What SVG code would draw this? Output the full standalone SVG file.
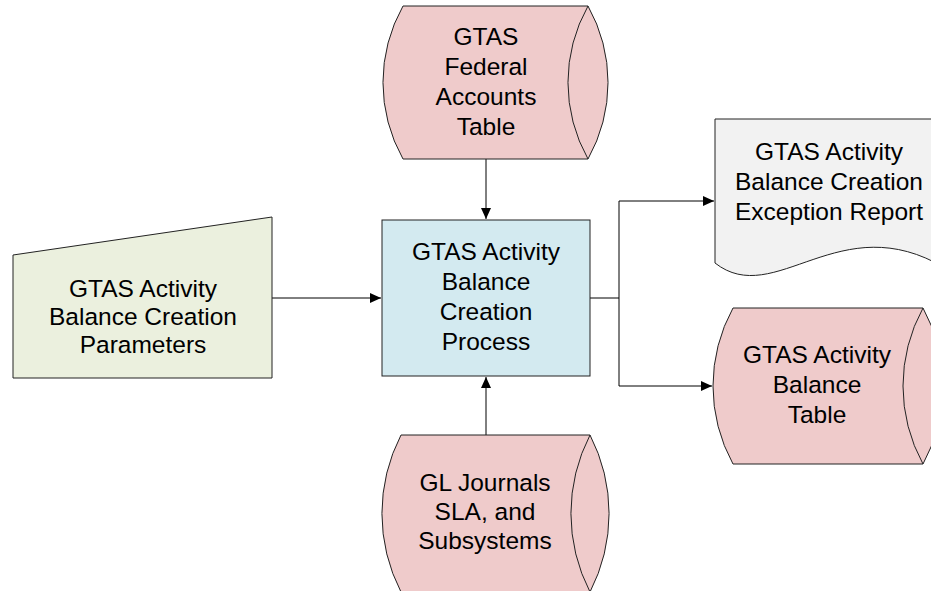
<svg xmlns="http://www.w3.org/2000/svg" width="931" height="591" viewBox="0 0 931 591">
<defs>
<style>
.db{fill:#EFCBCB;stroke:#222;stroke-width:1}
.proc{fill:#D3EAF0;stroke:#222;stroke-width:1}
.inp{fill:#EBF0DE;stroke:#222;stroke-width:1}
.doc{fill:#F2F2F2;stroke:#222;stroke-width:1}
.inner{fill:none;stroke:#222;stroke-width:1}
.lbl{font-family:"Liberation Sans",Arial,sans-serif;font-size:24.5px;fill:#000;text-anchor:middle}
.conn{fill:none;stroke:#000;stroke-width:1}
</style>
<marker id="arr" markerUnits="userSpaceOnUse" markerWidth="12" markerHeight="12" viewBox="0 0 12 12" refX="11" refY="6" orient="auto">
<path d="M0,1 L11,6 L0,11 Z" fill="#000"/>
</marker>
</defs>
<rect width="931" height="591" fill="#fff"/>
<g id="connectors">
<path class="conn" d="M486,159 L486,219" marker-end="url(#arr)"/>
<path class="conn" d="M272,298 L381,298" marker-end="url(#arr)"/>
<path class="conn" d="M486,435 L486,377" marker-end="url(#arr)"/>
<path class="conn" d="M590,298 L619,298"/>
<path class="conn" d="M619,201 L619,386"/>
<path class="conn" d="M619,201 L714,201" marker-end="url(#arr)"/>
<path class="conn" d="M619,386 L712,386" marker-end="url(#arr)"/>
</g>
<g id="federal-accounts">
<path class="db" d="M403,6 L588,6 A156,156 0 0 1 588,159 L403,159 A156,156 0 0 1 403,6 Z"/>
<path class="inner" d="M588,6 A156,156 0 0 0 588,159"/>
<text class="lbl" x="486" y="45">GTAS</text>
<text class="lbl" x="486" y="75">Federal</text>
<text class="lbl" x="486" y="105">Accounts</text>
<text class="lbl" x="486" y="135">Table</text>
</g>
<g id="parameters">
<path class="inp" d="M13,255 L272,217 L272,378 L13,378 Z"/>
<text class="lbl" x="143" y="297">GTAS Activity</text>
<text class="lbl" x="143" y="325">Balance Creation</text>
<text class="lbl" x="143" y="353">Parameters</text>
</g>
<g id="process">
<rect class="proc" x="382" y="220" width="208" height="156"/>
<text class="lbl" x="486" y="260">GTAS Activity</text>
<text class="lbl" x="486" y="290">Balance</text>
<text class="lbl" x="486" y="320">Creation</text>
<text class="lbl" x="486" y="350">Process</text>
</g>
<g id="exception-report">
<path class="doc" d="M715,119 L945,119 L945,268 C840,205 775,310 715,263 Z"/>
<text class="lbl" x="829" y="160">GTAS Activity</text>
<text class="lbl" x="829" y="190">Balance Creation</text>
<text class="lbl" x="829" y="220">Exception Report</text>
</g>
<g id="balance-table">
<path class="db" d="M733,308 L923,308 A162,162 0 0 1 923,464 L733,464 A162,162 0 0 1 733,308 Z"/>
<path class="inner" d="M923,308 A162,162 0 0 0 923,464"/>
<text class="lbl" x="817" y="363">GTAS Activity</text>
<text class="lbl" x="817" y="393">Balance</text>
<text class="lbl" x="817" y="423">Table</text>
</g>
<g id="gl-journals">
<path class="db" d="M401,435 L590,435 A171,171 0 0 1 590,592 L401,592 A171,171 0 0 1 401,435 Z"/>
<path class="inner" d="M590,435 A171,171 0 0 0 590,592"/>
<text class="lbl" x="485" y="491">GL Journals</text>
<text class="lbl" x="485" y="520">SLA, and</text>
<text class="lbl" x="485" y="549">Subsystems</text>
</g>
</svg>
